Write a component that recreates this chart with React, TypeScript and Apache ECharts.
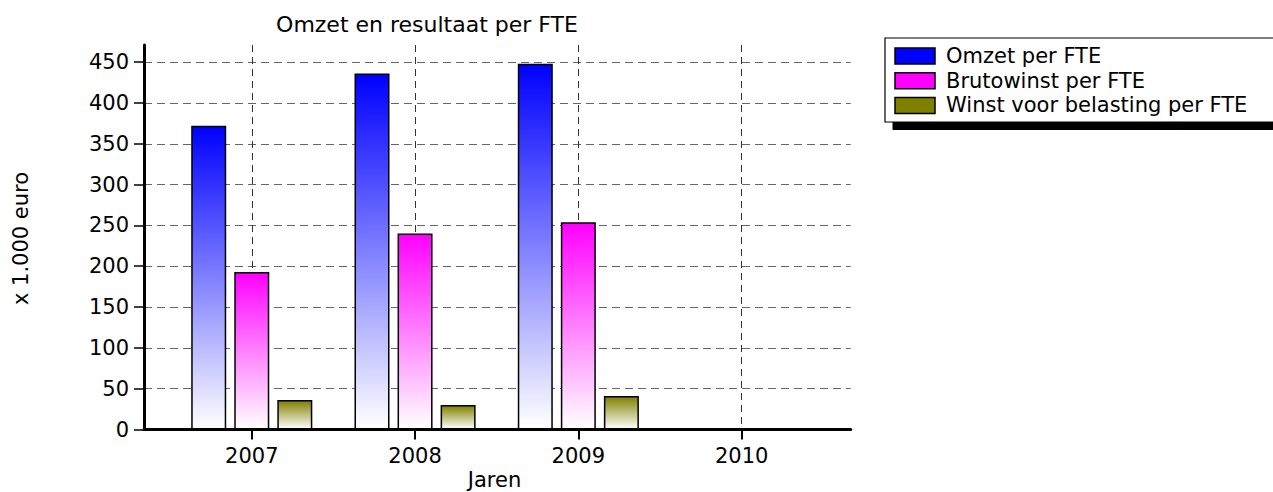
import React, { useEffect, useRef } from "react";
import * as echarts from "echarts";

const years = [2007, 2008, 2009, 2010];
const omzetPerFte = [372, 436, 448, null];
const brutowinstPerFte = [193, 240, 254, null];
const winstPerFte = [36, 30, 41, null];
const yTickValues = [0, 50, 100, 150, 200, 250, 300, 350, 400, 450];
const seriesNames = ["Omzet per FTE", "Brutowinst per FTE", "Winst voor belasting per FTE"];
const seriesColors = ["#0000ff", "#ff00ff", "#808000"];
const chartTitle = "Omzet en resultaat per FTE";
const xAxisName = "Jaren";
const yAxisName = "x 1.000 euro";

const FONT = "'DejaVu Sans', Verdana, sans-serif";

function gradient(color: string) {
  return new echarts.graphic.LinearGradient(0, 0, 0, 1, [
    { offset: 0, color },
    { offset: 1, color: "#ffffff" },
  ]);
}

export default function App() {
  const ref = useRef<HTMLDivElement>(null);

  useEffect(() => {
    if (!ref.current) return;
    const chart = echarts.init(ref.current, undefined, { renderer: "svg" });
    const allValues = [omzetPerFte, brutowinstPerFte, winstPerFte];

    const legendItems: any[] = [];
    seriesNames.forEach((name, i) => {
      legendItems.push({
        type: "rect",
        shape: { x: 895, y: 48 + i * 24.7, width: 40, height: 16 },
        style: { fill: seriesColors[i], stroke: "#000", lineWidth: 1.5 },
        z: 102,
      });
      legendItems.push({
        type: "text",
        x: 946,
        y: 56 + i * 24.7,
        style: {
          text: name,
          fontSize: 21,
          fontFamily: FONT,
          fill: "#000",
          textAlign: "left",
          textVerticalAlign: "middle",
        },
        z: 102,
      });
    });

    chart.setOption({
      animation: false,
      backgroundColor: "#ffffff",
      grid: {
        left: 144,
        top: 45,
        width: 706.7,
        height: 384.5,
        containLabel: false,
        outerBoundsMode: "none",
      },
      xAxis: {
        type: "value",
        min: 2006.34,
        max: 2010.668,
        axisLine: { show: true, onZero: false, lineStyle: { color: "#000", width: 3 } },
        axisTick: {
          show: true,
          customValues: years,
          length: 10,
          inside: false,
          lineStyle: { color: "#000", width: 2 },
        },
        axisLabel: {
          customValues: years,
          formatter: (v: number) => String(Math.round(v)),
          fontSize: 21,
          fontFamily: FONT,
          color: "#000",
          margin: 16,
        },
        splitLine: {
          show: true,
          lineStyle: { color: "#333", width: 1, type: [7, 5] },
        },
      },
      yAxis: {
        type: "value",
        min: 0,
        max: 471,
        axisLine: { show: true, lineStyle: { color: "#000", width: 3 } },
        axisTick: {
          show: true,
          customValues: yTickValues,
          length: 10,
          inside: false,
          lineStyle: { color: "#000", width: 1.5 },
        },
        axisLabel: {
          customValues: yTickValues,
          fontSize: 21,
          fontFamily: FONT,
          color: "#000",
          margin: 15,
        },
        splitLine: {
          show: true,
          lineStyle: { color: "#666", width: 1, type: [8, 5] },
        },
      },
      series: seriesNames.map((name, i) => ({
        type: "bar",
        name,
        barWidth: 35,
        barGap: "23%",
        data: years.map((y, j) => [y, allValues[i][j] == null ? "-" : allValues[i][j]]),
        itemStyle: {
          color: gradient(seriesColors[i]),
          borderColor: "#000",
          borderWidth: 1.5,
        },
      })),
      graphic: [
        {
          type: "text",
          x: 427,
          y: 24,
          style: {
            text: chartTitle,
            fontSize: 22,
            fontFamily: FONT,
            fill: "#000",
            textAlign: "center",
            textVerticalAlign: "middle",
          },
        },
        {
          type: "text",
          x: 494.5,
          y: 480,
          style: {
            text: xAxisName,
            fontSize: 21,
            fontFamily: FONT,
            fill: "#000",
            textAlign: "center",
            textVerticalAlign: "middle",
          },
        },
        {
          type: "text",
          x: 20.5,
          y: 238.5,
          rotation: Math.PI / 2,
          style: {
            text: yAxisName,
            fontSize: 21,
            fontFamily: FONT,
            fill: "#000",
            textAlign: "center",
            textVerticalAlign: "middle",
          },
        },
        {
          type: "rect",
          shape: { x: 892.5, y: 45, width: 420, height: 85 },
          style: { fill: "#000" },
          z: 100,
        },
        {
          type: "rect",
          shape: { x: 885, y: 38, width: 420, height: 84 },
          style: { fill: "#fff", stroke: "#000", lineWidth: 1.2 },
          z: 101,
        },
        ...legendItems,
      ],
    });

    return () => chart.dispose();
  }, []);

  return (
    <div
      ref={ref}
      style={{ position: "absolute", left: 0, top: 0, width: 1273, height: 492 }}
    />
  );
}
